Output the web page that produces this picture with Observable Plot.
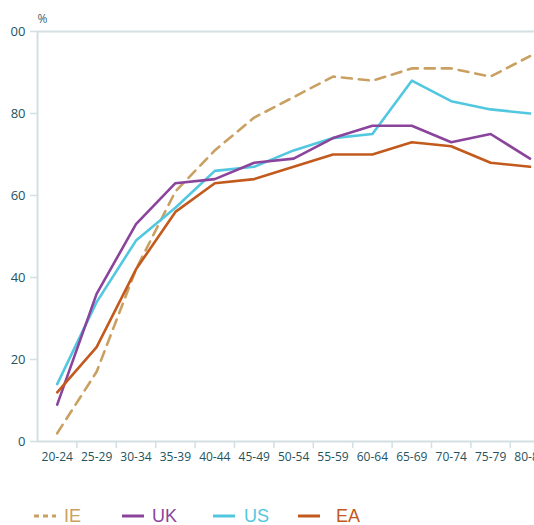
<!DOCTYPE html>
<html>
<head>
<meta charset="utf-8">
<script src="https://cdn.jsdelivr.net/npm/d3@7"></script>
<script src="https://cdn.jsdelivr.net/npm/@observablehq/plot@0.6"></script>
<style>
  body { margin: 0; background: #fff; width: 534px; height: 525px; overflow: hidden; position: relative; }
  #clip { position: absolute; left: 9px; top: 0; width: 525px; height: 475px; overflow: hidden; }
  #chart { position: absolute; left: -9px; top: 0; }
  #legend { position: absolute; left: 0; top: 498px; width: 534px; height: 27px; font-family: "Liberation Sans", Arial, sans-serif; font-size: 18px; }
  #legend svg { position: absolute; top: 0; }
  #legend span { position: absolute; top: 8px; line-height: 20px; white-space: nowrap; }
</style>
</head>
<body>
<div id="clip"><div id="chart"></div></div>
<div id="legend"></div>
<script>
const categories = ["20-24","25-29","30-34","35-39","40-44","45-49","50-54","55-59","60-64","65-69","70-74","75-79","80-84"];
const seriesNames = ["IE","UK","US","EA"];
const IE = [2, 17, 42, 61, 71, 79, 84, 89, 88, 91, 91, 89, 94];
const UK = [9, 36, 53, 63, 64, 68, 69, 74, 77, 77, 73, 75, 69];
const US = [14, 34, 49, 57, 66, 67, 71, 74, 75, 88, 83, 81, 80];
const EA = [12, 23, 42, 56, 63, 64, 67, 70, 70, 73, 72, 68, 67];
const yTicks = [0, 20, 40, 60, 80, 100];
const colors = {IE: "#c9a062", UK: "#8a449c", US: "#52c7e0", EA: "#c35a1d"};

const seriesValues = {IE, UK, US, EA};
const rows = [];
for (const s of seriesNames) {
  seriesValues[s].forEach((v, i) => rows.push({series: s, i: i + 0.5, cat: categories[i], value: v}));
}
const edgeTicks = d3.range(1, categories.length + 1);
const centerTicks = categories.map((c, i) => i + 0.5);

const axisColor = "#d3dfe2";
const labelColor = "#24535e";

const chart = Plot.plot({
  width: 534,
  height: 475,
  marginLeft: 37,
  marginRight: 0,
  marginTop: 31,
  marginBottom: 34,
  style: {fontFamily: "'Open Sans', sans-serif", fontSize: "12px", background: "transparent", overflow: "hidden"},
  x: {type: "linear", domain: [0, categories.length], range: [37, 37 + 39.4 * categories.length]},
  y: {domain: [0, 100], range: [441, 31]},
  marks: [
    Plot.ruleY([0, 100], {stroke: axisColor, strokeWidth: 2}),
    Plot.ruleX([0], {stroke: axisColor, strokeWidth: 2}),
    Plot.axisY({ticks: yTicks, tickSize: 7, tickPadding: 5, stroke: axisColor, strokeWidth: 1.5, color: labelColor, fontSize: 13, label: null}),
    Plot.axisX({ticks: edgeTicks, tickSize: 7, tickFormat: () => "", stroke: axisColor, strokeWidth: 1.5, label: null}),
    Plot.axisX({ticks: centerTicks, tickSize: 0, tickPadding: 11, tickFormat: d => categories[Math.round(d - 0.5)], color: labelColor, fontSize: 12, label: null}),
    Plot.text(["%"], {frameAnchor: "top-left", dx: 5, dy: -17, fill: "#3e6873", fontSize: 12, textAnchor: "middle"}),
    Plot.line(rows.filter(d => d.series === "IE"), {x: "i", y: "value", stroke: colors.IE, strokeWidth: 2.6, strokeDasharray: "10,7"}),
    Plot.line(rows.filter(d => d.series === "US"), {x: "i", y: "value", stroke: colors.US, strokeWidth: 2.6}),
    Plot.line(rows.filter(d => d.series === "UK"), {x: "i", y: "value", stroke: colors.UK, strokeWidth: 2.6}),
    Plot.line(rows.filter(d => d.series === "EA"), {x: "i", y: "value", stroke: colors.EA, strokeWidth: 2.6})
  ]
});
document.getElementById("chart").appendChild(chart);

// legend
const legendPos = [
  {name: "IE", line: 34, text: 64, dashed: true},
  {name: "UK", line: 122, text: 152},
  {name: "US", line: 213, text: 244},
  {name: "EA", line: 298, text: 336}
];
const legend = document.getElementById("legend");
for (const p of legendPos) {
  const ns = "http://www.w3.org/2000/svg";
  const svg = document.createElementNS(ns, "svg");
  svg.setAttribute("width", 22); svg.setAttribute("height", 27);
  svg.style.left = p.line + "px";
  const l = document.createElementNS(ns, "line");
  l.setAttribute("x1", 0); l.setAttribute("x2", 22);
  l.setAttribute("y1", 18); l.setAttribute("y2", 18);
  l.setAttribute("stroke", colors[p.name]); l.setAttribute("stroke-width", 3);
  if (p.dashed) l.setAttribute("stroke-dasharray", "5,4");
  svg.appendChild(l);
  legend.appendChild(svg);
  const t = document.createElement("span");
  t.textContent = p.name;
  t.style.left = p.text + "px";
  t.style.color = colors[p.name];
  legend.appendChild(t);
}
</script>
</body>
</html>
